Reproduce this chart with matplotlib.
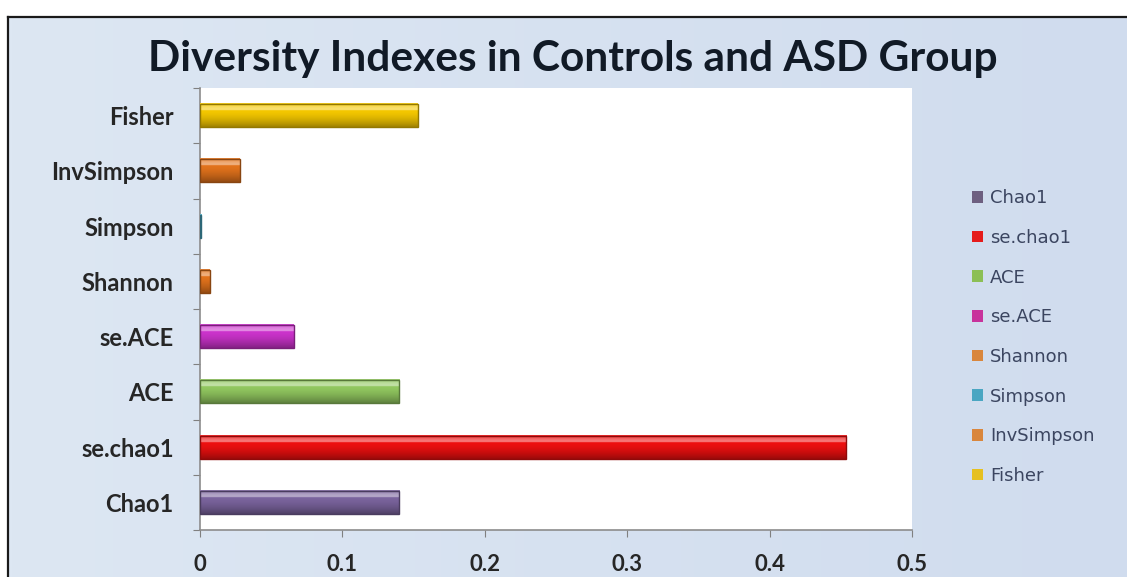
import numpy as np
import matplotlib
matplotlib.use("Agg")
import matplotlib.pyplot as plt
from matplotlib.colors import to_rgb
from matplotlib.patches import Patch
from matplotlib.lines import Line2D

# Diversity index values
categories = ["Chao1", "se.chao1", "ACE", "se.ACE", "Shannon", "Simpson", "InvSimpson", "Fisher"]
values = [0.140, 0.454, 0.140, 0.066, 0.007, 0.001, 0.028, 0.153]
bar_colors = ["#7b649e", "#ee1010", "#92c860", "#cc33cc", "#e3731c", "#4bacc6", "#e3731c", "#f5c800"]
legend_colors = ["#6d5f80", "#e51b1b", "#8cbf55", "#c8339c", "#d9863c", "#4aa6c2", "#d9863c", "#e6c020"]
x_ticks = [0, 0.1, 0.2, 0.3, 0.4, 0.5]
x_tick_labels = ["0", "0.1", "0.2", "0.3", "0.4", "0.5"]
title = "Diversity Indexes in Controls and ASD Group"

W, H = 1127, 577
fig = plt.figure(figsize=(W / 100, H / 100), dpi=100)
fig.patch.set_facecolor("white")

# light blue chart-area background with a soft horizontal gradient
bg = fig.add_axes([0, 0, 1, 1], zorder=0)
bg.set_axis_off()
c1 = np.array(to_rgb("#dde7f3"))
c2 = np.array(to_rgb("#d0dcee"))
t = np.linspace(0, 1, 256)[None, :, None]
grad = c1 * (1 - t) + c2 * t
bg.imshow(grad, extent=[8 / W, 1, 0, 1 - 17 / H], aspect="auto", zorder=0)
bg.set_xlim(0, 1)
bg.set_ylim(0, 1)

# chart frame (top and left edges)
fig.add_artist(Line2D([8 / W, 1], [1 - 17 / H, 1 - 17 / H], transform=fig.transFigure,
                      color="#1a1a1a", lw=1.6, zorder=5))
fig.add_artist(Line2D([8 / W, 8 / W], [0, 1 - 17 / H], transform=fig.transFigure,
                      color="#1a1a1a", lw=1.6, zorder=5))

ax = fig.add_axes([200 / W, 1 - 530 / H, 712 / W, (530 - 88) / H], zorder=2)
ax.set_facecolor("white")

y = np.arange(len(categories))
bars = ax.barh(y, values, height=0.42, color=bar_colors, edgecolor="none", zorder=3)

# shaded, rounded-looking fill for each bar (highlight near the top, darker base)
for patch, col in zip(bars.patches, bar_colors):
    x0, y0 = patch.get_x(), patch.get_y()
    w, h = patch.get_width(), patch.get_height()
    base = np.array(to_rgb(col))
    s = np.linspace(0, 1, 64)
    prof = np.where(s < 0.3, 0.45 * np.sin(np.pi * (s + 0.05) / 0.7),
                    -0.35 * ((s - 0.3) / 0.7) ** 1.6)
    rows = []
    for p in prof:
        if p >= 0:
            rows.append(base + (1 - base) * p)
        else:
            rows.append(base * (1 + p))
    img = np.clip(np.array(rows)[:, None, :], 0, 1)
    ax.imshow(img, extent=[x0, x0 + w, y0, y0 + h], origin="upper", aspect="auto",
              zorder=4, interpolation="bilinear")
    edge = np.clip(base * 0.6, 0, 1)
    ax.add_patch(plt.Rectangle((x0, y0), w, h, fill=False, edgecolor=edge, lw=1.0, zorder=5))

ax.set_xlim(0, 0.5)
ax.set_ylim(-0.5, len(categories) - 0.5)

ax.set_xticks(x_ticks)
ax.set_xticklabels(x_tick_labels, fontfamily="Lato", fontweight="bold", fontsize=16,
                   color="#262626")
ax.tick_params(axis="x", direction="out", length=5, color="#808080", pad=12)

ax.set_yticks(np.arange(len(categories) + 1) - 0.5)
ax.set_yticklabels([])
ax.tick_params(axis="y", which="major", direction="out", length=5, color="#808080")
ax.set_yticks(y, minor=True)
ax.set_yticklabels(categories, minor=True, fontfamily="Lato", fontweight="bold",
                   fontsize=17, color="#262626")
ax.tick_params(axis="y", which="minor", length=0, pad=19)

for side in ("top", "right"):
    ax.spines[side].set_visible(False)
for side in ("left", "bottom"):
    ax.spines[side].set_color("#8c8c8c")
    ax.spines[side].set_linewidth(1.2)

fig.text(573 / W, 1 - 59 / H, title, ha="center", va="center", fontfamily="Lato",
         fontweight="bold", fontsize=30.5, color="#111a26", zorder=6)

handles = [Patch(facecolor=c, edgecolor="none") for c in legend_colors]
leg = fig.legend(handles, categories, loc="upper left",
                 bbox_to_anchor=(965 / W, 1 - 182 / H), frameon=False,
                 fontsize=13, handlelength=0.6, handleheight=0.6, handletextpad=0.4,
                 labelspacing=1.2, borderaxespad=0)
for txt in leg.get_texts():
    txt.set_color("#3b4560")

fig.savefig("out.png", dpi=100, facecolor="white")
